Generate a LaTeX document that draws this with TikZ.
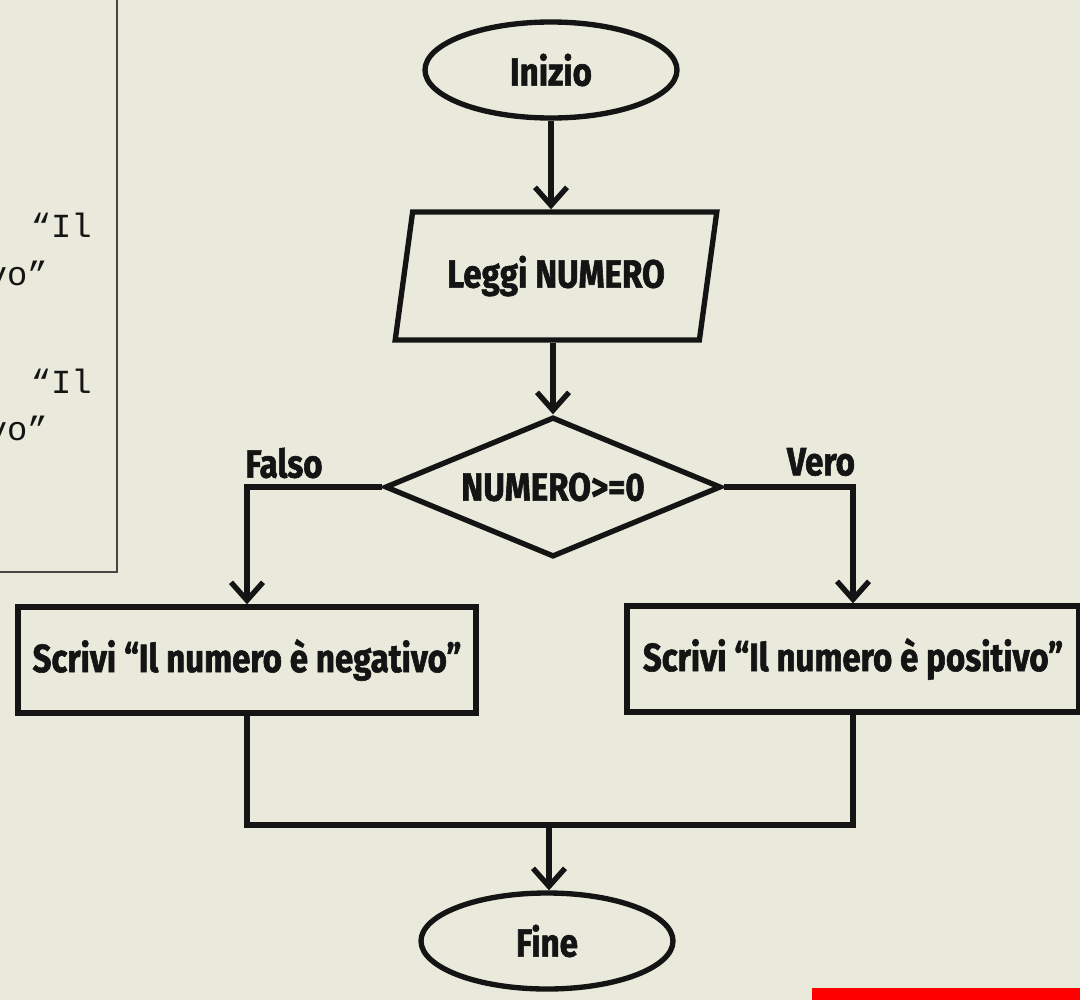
\documentclass[tikz,border=0pt]{standalone}
\usepackage{fontspec}
\setmainfont{Fira Sans}[FakeStretch=0.84, FakeBold=1.5]
\newfontfamily\codefont{Liberation Mono}
\usetikzlibrary{arrows.meta, positioning, shapes.geometric}

\definecolor{paper}{RGB}{233,234,220}
\definecolor{ink}{RGB}{20,20,20}
\definecolor{frame}{RGB}{70,70,70}

\tikzset{
  base/.style={draw=ink, line width=3.8pt, text=ink, inner sep=0pt,
    font=\fontsize{28}{32}\selectfont\bfseries},
  terminal/.style={base, ellipse, minimum width=63mm, minimum height=24mm},
  io/.style={base, trapezium, trapezium left angle=72, trapezium right angle=108,
    trapezium stretches=true, minimum width=80.5mm, minimum height=32mm},
  decision/.style={base, diamond, aspect=2.4, minimum width=84mm, minimum height=35mm},
  process/.style={base, rectangle, minimum height=26.5mm},
  flow/.style={draw=ink, line width=3.8pt, -{Straight Barb[length=4.5mm, width=8mm]}},
  link/.style={draw=ink, line width=3.8pt},
  branch/.style={text=ink, font=\fontsize{28}{32}\selectfont\bfseries},
  code/.style={text=ink, font=\codefont\fontsize{24}{28}\selectfont}
}

\begin{document}
\begin{tikzpicture}[x=0.25mm, y=-0.25mm]
    % Background
    \fill[paper] (0,0) rectangle (1080,1000);
    \useasboundingbox (0,0) rectangle (1080,1000);

    % Pseudocode panel (cut off)
    \draw[frame, line width=2pt] (117,0) -- (117,572) -- (0,572);
    \node[code, anchor=base east, inner sep=0pt] (code1) at (92,237) {“Il};
    \node[code, anchor=base east, inner sep=0pt] (code2) at (48,285) {vo”};
    \node[code, anchor=base east, inner sep=0pt] (code3) at (92,393) {“Il};
    \node[code, anchor=base east, inner sep=0pt] (code4) at (48,440) {vo”};

    % Flowchart
    \node[terminal] (inizio) at (551,70) {Inizio};
    \node[io] (leggi) at (556,276) {Leggi NUMERO};
    \node[decision] (test) at (553,487) {NUMERO>=0};
    \node[process, minimum width=114.5mm] (neg) at (247,660) {Scrivi “Il numero è negativo”};
    \node[process, minimum width=113mm] (pos) at (853,659) {Scrivi “Il numero è positivo”};
    \node[terminal] (fine) at (547,941) {Fine};

    % Branch labels
    \node[branch] (falso) at (284,463) {Falso};
    \node[branch] (vero) at (821,462) {Vero};

    % Connectors
    \coordinate (merge) at (549,825);
    \draw[flow] (inizio.south) -- (inizio.south |- leggi.north);
    \draw[flow] (test.north |- leggi.south) -- (test.north);
    \draw[flow] (test.west) -| (neg.north);
    \draw[flow] (test.east) -| (pos.north);
    \draw[link] (neg.south) |- (merge) -| (pos.south);
    \draw[flow] (merge) -- (merge |- fine.north);

    % Red bar
    \fill[red] (812,988) rectangle (1080,1000);
\end{tikzpicture}
\end{document}
